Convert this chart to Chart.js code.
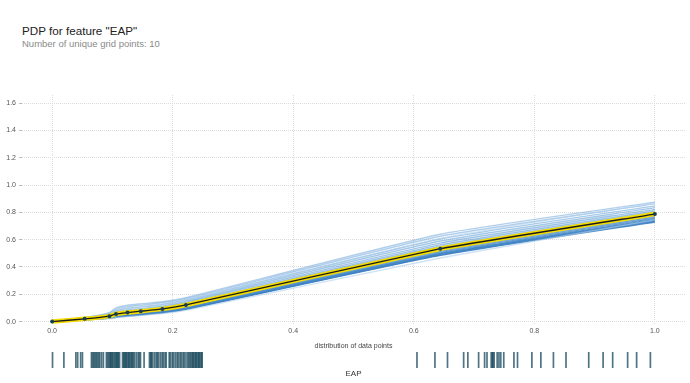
<!DOCTYPE html>
<html>
<head>
<meta charset="utf-8">
<script src="https://cdn.jsdelivr.net/npm/chart.js@4.4.1/dist/chart.umd.min.js"></script>
<style>
  html, body { margin: 0; padding: 0; background: #fff; }
  #wrap { position: relative; width: 690px; height: 383px; overflow: hidden; font-family: "Liberation Sans", Arial, sans-serif; }
  #title { position: absolute; left: 22px; top: 24px; font-size: 11.7px; line-height: 13px; color: #222; white-space: nowrap; }
  #subtitle { position: absolute; left: 22px; top: 38px; font-size: 9.5px; line-height: 11px; color: #8a8a8a; white-space: nowrap; }
  #featname { position: absolute; left: 22px; width: 663px; top: 369px; text-align: center; font-size: 8px; line-height: 9px; color: #333; }
  #main { position: absolute; left: 0; top: 0; }
  #rug { position: absolute; left: 0; top: 348px; }
</style>
</head>
<body>
<div id="wrap">
  <div id="title">PDP for feature "EAP"</div>
  <div id="subtitle">Number of unique grid points: 10</div>
  <canvas id="main" width="690" height="352"></canvas>
  <canvas id="rug" width="690" height="24"></canvas>
  <div id="featname">EAP</div>
</div>
<script>
// ---- data ----
const gridPoints = [0, 0.054, 0.095, 0.106, 0.125, 0.147, 0.183, 0.222, 0.644, 1.0];
const pdpValues  = [0, 0.020, 0.040, 0.056, 0.066, 0.076, 0.093, 0.122, 0.534, 0.788];

const ice01 = [0, 0.030, 0.065, 0.100, 0.120, 0.130, 0.145, 0.175, 0.640, 0.875];
const ice02 = [0, 0.028, 0.060, 0.090, 0.110, 0.120, 0.138, 0.168, 0.625, 0.862];
const ice03 = [0, 0.026, 0.054, 0.080, 0.096, 0.106, 0.125, 0.158, 0.605, 0.848];
const ice04 = [0, 0.024, 0.050, 0.070, 0.084, 0.094, 0.113, 0.148, 0.590, 0.835];
const ice05 = [0, 0.023, 0.047, 0.065, 0.076, 0.086, 0.105, 0.140, 0.575, 0.822];
const ice06 = [0, 0.022, 0.044, 0.060, 0.071, 0.081, 0.099, 0.132, 0.562, 0.810];
const ice07 = [0, 0.021, 0.042, 0.057, 0.068, 0.078, 0.095, 0.127, 0.550, 0.800];
const ice08 = [0, 0.020, 0.040, 0.054, 0.064, 0.074, 0.091, 0.121, 0.540, 0.792];
const ice09 = [0, 0.019, 0.038, 0.052, 0.061, 0.071, 0.088, 0.117, 0.530, 0.782];
const ice10 = [0, 0.018, 0.036, 0.049, 0.058, 0.068, 0.085, 0.113, 0.522, 0.774];
const ice11 = [0, 0.017, 0.034, 0.046, 0.055, 0.065, 0.081, 0.109, 0.514, 0.765];
const ice12 = [0, 0.016, 0.032, 0.043, 0.052, 0.062, 0.078, 0.105, 0.506, 0.757];
const ice13 = [0, 0.015, 0.030, 0.040, 0.049, 0.058, 0.074, 0.101, 0.500, 0.749];
const ice14 = [0, 0.014, 0.028, 0.037, 0.046, 0.055, 0.070, 0.097, 0.495, 0.742];
const ice15 = [0, 0.013, 0.026, 0.034, 0.043, 0.052, 0.067, 0.093, 0.490, 0.736];
const ice16 = [0, 0.012, 0.024, 0.032, 0.040, 0.049, 0.064, 0.090, 0.485, 0.730];
const ice17 = [0, 0.012, 0.022, 0.029, 0.036, 0.044, 0.058, 0.082, 0.466, 0.745];
const ice18 = [0, 0.025, 0.055, 0.085, 0.100, 0.110, 0.125, 0.160, 0.610, 0.870];
const iceLines = [ice18, ice17, ice01, ice02, ice03, ice04, ice05, ice06, ice07, ice08, ice09, ice10, ice11, ice12, ice13, ice14, ice15, ice16];

const rugValues = [
  0.001, 0.020, 0.040, 0.043, 0.048, 0.051,
  0.066, 0.068, 0.070, 0.072, 0.074, 0.076, 0.078, 0.080, 0.083, 0.086,
  0.091, 0.093, 0.095, 0.097, 0.098, 0.100, 0.101, 0.103, 0.105, 0.107, 0.108, 0.110, 0.111, 0.113,
  0.118, 0.120, 0.121, 0.123, 0.124, 0.126, 0.128, 0.129, 0.131, 0.133, 0.134, 0.136, 0.138, 0.141, 0.144, 0.146, 0.148,
  0.154, 0.163, 0.165, 0.166, 0.168, 0.171, 0.174, 0.176, 0.178, 0.181, 0.184, 0.186, 0.189, 0.191,
  0.196, 0.198, 0.201, 0.203, 0.206, 0.209, 0.211, 0.214, 0.216, 0.219, 0.221, 0.224,
  0.227, 0.229, 0.231, 0.233, 0.235, 0.236, 0.238, 0.240, 0.241, 0.243, 0.245, 0.246, 0.248, 0.250, 0.251,
  0.610, 0.640, 0.661, 0.688, 0.695, 0.713, 0.723, 0.727, 0.734, 0.736, 0.737, 0.739, 0.744, 0.747,
  0.750, 0.755, 0.772, 0.778, 0.802, 0.817, 0.838, 0.859, 0.897, 0.921, 0.937, 0.962, 0.977, 1.0
];

const xTicks = [0, 0.2, 0.4, 0.6, 0.8, 1.0];
const yTicks = [0, 0.2, 0.4, 0.6, 0.8, 1.0, 1.2, 1.4, 1.6];

// ---- build chart ----
const FONT = '"Liberation Sans", Arial, sans-serif';
const toXY = arr => gridPoints.map((g, i) => ({ x: g, y: arr[i] }));

const iceColors = [
  'rgba(175,208,236,0.55)', 'rgba(175,208,236,0.6)',
  'rgba(135,182,224,0.65)', 'rgba(135,182,224,0.65)', 'rgba(120,173,220,0.65)', 'rgba(115,170,218,0.65)',
  'rgba(108,164,215,0.65)', 'rgba(102,160,213,0.65)', 'rgba(96,156,210,0.65)', 'rgba(92,152,208,0.7)',
  'rgba(86,148,205,0.7)', 'rgba(82,145,204,0.75)', 'rgba(78,142,202,0.75)', 'rgba(73,139,200,0.8)',
  'rgba(68,135,198,0.85)', 'rgba(64,132,196,0.9)', 'rgba(60,129,195,0.9)', 'rgba(56,125,194,0.9)'
];

const datasets = [];
datasets.push({
  data: toXY(pdpValues), borderColor: '#1b1b1b', borderWidth: 1.3,
  pointRadius: 2, pointBackgroundColor: '#173f4f', pointBorderColor: '#173f4f', pointBorderWidth: 0,
  tension: 0.1, order: 0
});
datasets.push({
  data: toXY(pdpValues), borderColor: '#f4db00', borderWidth: 4.5,
  pointRadius: 0, tension: 0.1, order: 1
});
iceLines.forEach((arr, i) => {
  datasets.push({
    data: toXY(arr), borderColor: iceColors[i], borderWidth: 1.4,
    pointRadius: 0, tension: 0.15, order: 2 + i
  });
});

new Chart(document.getElementById('main'), {
  type: 'line',
  data: { datasets },
  options: {
    responsive: false, animation: false, devicePixelRatio: 1,
    layout: { padding: { top: 95, right: 5, left: 0, bottom: 0 } },
    plugins: { legend: { display: false }, tooltip: { enabled: false }, title: { display: false } },
    scales: {
      x: {
        type: 'linear', min: -0.05, max: 1.05,
        afterBuildTicks: s => { s.ticks = xTicks.map(v => ({ value: v })); },
        afterFit: s => { s.height = 27; },
        grid: { color: '#dcdcdc', lineWidth: 1, drawTicks: false },
        border: { display: false, dash: [1, 1] },
        ticks: { padding: 2, color: '#555', font: { family: FONT, size: 7 }, callback: v => v.toFixed(1) },
        title: { display: true, text: 'distribution of data points', color: '#444',
                 font: { family: FONT, size: 7 }, padding: { top: 0, bottom: 2 } }
      },
      y: {
        type: 'linear', min: -0.025, max: 1.66,
        afterBuildTicks: s => { s.ticks = yTicks.map(v => ({ value: v })); },
        afterFit: s => { s.width = 22; },
        grid: { color: '#dcdcdc', lineWidth: 1, drawTicks: true, tickLength: 3, tickColor: '#bbb' },
        border: { display: false, dash: [1, 1] },
        ticks: { padding: 3, color: '#555', font: { family: FONT, size: 7 }, callback: v => v.toFixed(1) }
      }
    }
  }
});

new Chart(document.getElementById('rug'), {
  type: 'scatter',
  data: { datasets: [{
    data: rugValues.map(v => ({ x: v, y: 0.5 })),
    pointStyle: 'line', rotation: 90, radius: 8,
    borderColor: 'rgba(20,70,90,0.75)', borderWidth: 1.7, clip: false
  }] },
  options: {
    responsive: false, animation: false, devicePixelRatio: 1,
    layout: { padding: { top: 0, right: 5, left: 22, bottom: 0 } },
    plugins: { legend: { display: false }, tooltip: { enabled: false } },
    scales: {
      x: { type: 'linear', min: -0.05, max: 1.05, display: false },
      y: { type: 'linear', min: 0, max: 1, display: false }
    }
  }
});
</script>
</body>
</html>
